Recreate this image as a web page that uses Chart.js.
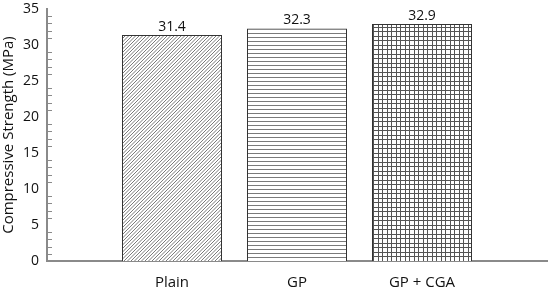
<!DOCTYPE html>
<html>
<head>
<meta charset="utf-8">
<script src="https://cdn.jsdelivr.net/npm/chart.js@4"></script>
<style>
  html, body { margin: 0; padding: 0; background: #ffffff; }
  canvas { display: block; }
</style>
</head>
<body>
<canvas id="c" width="550" height="290"></canvas>
<script>
// ---- data ----
const categories = ['', 'Plain', 'GP', 'GP + CGA', ''];
const strengthValues = [null, 31.4, 32.3, 32.9, null];
const yTickMin = 0;
const yTickMax = 35;
const yMajorStep = 5;
const yAxisTitle = 'Compressive Strength (MPa)';

// ---- patterns ----
function makePattern(size, draw) {
  const cv = document.createElement('canvas');
  cv.width = size; cv.height = size;
  const g = cv.getContext('2d');
  g.fillStyle = '#ffffff';
  g.fillRect(0, 0, size, size);
  draw(g, size);
  return g.createPattern(cv, 'repeat');
}
const diagPattern = makePattern(7, (g, s) => {
  g.strokeStyle = '#7a7a7a';
  g.lineWidth = 1;
  [-3.5, 0, 3.5, 7, 10.5].forEach(c => {
    g.beginPath();
    g.moveTo(c - 1, s + 1);
    g.lineTo(c + s + 1, -1);
    g.stroke();
  });
});
const horizPattern = makePattern(4, (g, s) => {
  g.fillStyle = '#7a7a7a';
  g.fillRect(0, 1, s, 1);
});
const gridPattern = makePattern(9, (g, s) => {
  g.fillStyle = '#555555';
  g.fillRect(0, 0, s, 1);
  g.fillRect(0, 4, s, 1);
  g.fillRect(0, 0, 1, s);
  g.fillRect(4, 0, 1, s);
});
const barFills = [null, diagPattern, horizPattern, gridPattern, null];

const FONT = "'Open Sans', 'Liberation Sans', sans-serif";
const TEXT = '#111111';
const AXIS = '#8a8a8a';

const valueLabels = {
  id: 'valueLabels',
  afterDatasetsDraw(chart) {
    const ctx = chart.ctx;
    const meta = chart.getDatasetMeta(0);
    ctx.save();
    ctx.font = '14px ' + FONT;
    ctx.fillStyle = TEXT;
    ctx.textAlign = 'center';
    ctx.textBaseline = 'bottom';
    meta.data.forEach((bar, i) => {
      const v = strengthValues[i];
      if (v == null) return;
      ctx.fillText(v.toFixed(1), bar.x, bar.y - 1);
    });
    ctx.restore();
  }
};

const minorTicks = {
  id: 'minorTicks',
  afterDraw(chart) {
    const ys = chart.scales.y;
    const ctx = chart.ctx;
    ctx.save();
    ctx.strokeStyle = AXIS;
    ctx.lineWidth = 1;
    ys.ticks.forEach(t => {
      if (t.value % yMajorStep === 0) return;
      const py = Math.round(ys.getPixelForValue(t.value)) + 0.5;
      ctx.beginPath();
      ctx.moveTo(ys.right, py);
      ctx.lineTo(ys.right + 5, py);
      ctx.stroke();
    });
    ctx.restore();
  }
};

new Chart(document.getElementById('c'), {
  type: 'bar',
  data: {
    labels: categories,
    datasets: [{
      data: strengthValues,
      backgroundColor: barFills,
      borderColor: '#333333',
      borderWidth: 1,
      barPercentage: 1,
      categoryPercentage: 0.8
    }]
  },
  options: {
    responsive: false,
    animation: false,
    layout: { padding: { top: 9, right: 3, left: 0, bottom: 0 } },
    plugins: { legend: { display: false }, tooltip: { enabled: false } },
    scales: {
      x: {
        type: 'category',
        offset: false,
        grid: { display: false, drawTicks: false },
        border: { display: true, color: AXIS, width: 2 },
        ticks: {
          color: TEXT,
          font: { family: FONT, size: 15 },
          padding: 13,
          maxRotation: 0,
          autoSkip: false
        },
        afterFit(scale) {
          scale.height = 29;
          scale.paddingLeft = 0;
          scale.paddingRight = 0;
        }
      },
      y: {
        min: yTickMin,
        max: yTickMax,
        grid: { display: false, drawTicks: false },
        border: { display: true, color: AXIS, width: 2 },
        ticks: {
          stepSize: 1,
          autoSkip: false,
          color: TEXT,
          font: { family: FONT, size: 14 },
          padding: 8,
          callback: v => (v % yMajorStep === 0 ? String(v) : '')
        },
        title: {
          display: true,
          text: yAxisTitle,
          color: TEXT,
          font: { family: FONT, size: 15 },
          padding: { top: 0, bottom: 0 }
        },
        afterFit(scale) {
          scale.width = 47;
          scale.paddingTop = 0;
          scale.paddingBottom = 0;
        }
      }
    }
  },
  plugins: [valueLabels, minorTicks]
});
</script>
</body>
</html>
